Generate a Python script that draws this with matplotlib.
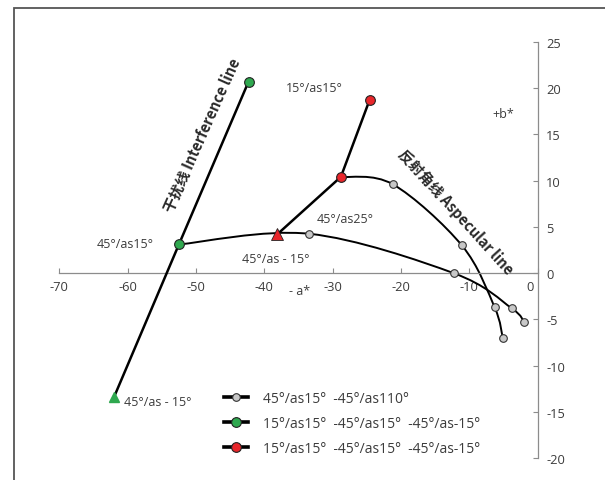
import matplotlib
matplotlib.use("Agg")
import matplotlib.pyplot as plt
from matplotlib.path import Path
from matplotlib.patches import PathPatch, Rectangle
from matplotlib.lines import Line2D
import matplotlib.transforms as mtransforms

plt.rcParams['font.family'] = ['Open Sans', 'Noto Sans CJK SC', 'DejaVu Sans']
plt.rcParams['axes.unicode_minus'] = False

# green series: 45/as-15 -> 45/as15 -> 15/as15
green_x = [-62.0, -52.5, -42.3]
green_y = [-13.4, 3.1, 20.7]
# red series
red_x = [-38.1, -28.8, -24.6]
red_y = [4.2, 10.4, 18.7]
# lower grey curve (starts at green 45/as15)
low_x = [-52.5, -33.4, -12.3, -3.8, -2.0]
low_y = [3.1, 4.25, 0.0, -3.8, -5.3]
# upper grey curve (starts at red 45/as15)
up_x = [-28.8, -21.2, -11.1, -6.3, -5.1]
up_y = [10.4, 9.6, 3.0, -3.7, -7.05]

legend_labels = ["45°/as15°  -45°/as110°",
                 "15°/as15°  -45°/as15°  -45°/as-15°",
                 "15°/as15°  -45°/as15°  -45°/as-15°"]

GREEN = '#2fa84f'
RED = '#e8262b'
GREY = '#c8c8c8'
TXT = '#3c3c3c'
AXC = '#8c8c8c'


def smooth_path(xs, ys):
    # excel style smoothing: catmull-rom turned into cubic beziers
    pts = list(zip(xs, ys))
    verts = [pts[0]]
    codes = [Path.MOVETO]
    n = len(pts)
    for i in range(n - 1):
        p0 = pts[i - 1] if i > 0 else pts[i]
        p1 = pts[i]
        p2 = pts[i + 1]
        p3 = pts[i + 2] if i + 2 < n else pts[i + 1]
        c1 = (p1[0] + (p2[0] - p0[0]) / 6, p1[1] + (p2[1] - p0[1]) / 6)
        c2 = (p2[0] - (p3[0] - p1[0]) / 6, p2[1] - (p3[1] - p1[1]) / 6)
        verts += [c1, c2, p2]
        codes += [Path.CURVE4] * 3
    return Path(verts, codes)


W, H = 605, 481
fig = plt.figure(figsize=(W / 100, H / 100), dpi=100)
ax = fig.add_axes([59.3 / W, 1 - 459.3 / H, (537.7 - 59.3) / W, (459.3 - 42.7) / H])
ax.set_xlim(-70, 0)
ax.set_ylim(-20, 25)

# axes: x axis through zero, y axis on the right
ax.spines['top'].set_visible(False)
ax.spines['left'].set_visible(False)
ax.spines['bottom'].set_position(('data', 0))
for s in ('bottom', 'right'):
    ax.spines[s].set_color(AXC)
    ax.spines[s].set_linewidth(0.9)
ax.yaxis.tick_right()
ax.set_xticks(range(-70, 1, 10))
ax.set_yticks(range(-20, 26, 5))
ax.tick_params(axis='both', direction='in', length=3.5, width=0.8, color=AXC,
               labelsize=9.3, labelcolor=TXT)
ax.tick_params(axis='y', pad=6)
ax.tick_params(axis='x', pad=5)
ax.patch.set_visible(False)

# shift the "0" label off the y axis
lbl0 = ax.get_xticklabels()[-1]
lbl0.set_transform(lbl0.get_transform() + mtransforms.ScaledTranslation(-8 / 100, 0, fig.dpi_scale_trans))

# curves
for xs, ys in ((low_x, low_y), (up_x, up_y)):
    ax.add_patch(PathPatch(smooth_path(xs, ys), facecolor='none', edgecolor='black',
                           lw=1.4, zorder=2, clip_on=False))
ax.plot(low_x[1:], low_y[1:], ls='none', marker='o', ms=5.5, mfc=GREY, mec='#333333',
        mew=0.8, zorder=4, clip_on=False)
ax.plot(up_x[1:], up_y[1:], ls='none', marker='o', ms=5.5, mfc=GREY, mec='#333333',
        mew=0.8, zorder=4, clip_on=False)

ax.plot(green_x, green_y, color='black', lw=1.8, zorder=3)
ax.plot(green_x[1:], green_y[1:], ls='none', marker='o', ms=7, mfc=GREEN, mec='#222222',
        mew=0.8, zorder=5)
ax.plot(green_x[:1], green_y[:1], ls='none', marker='^', ms=7.5, mfc=GREEN, mec=GREEN,
        zorder=5, clip_on=False)

ax.plot(red_x, red_y, color='black', lw=1.8, zorder=3)
ax.plot(red_x[1:], red_y[1:], ls='none', marker='o', ms=7, mfc=RED, mec='#222222',
        mew=0.8, zorder=5)
ax.plot(red_x[:1], red_y[:1], ls='none', marker='^', ms=8, mfc=RED, mec='#222222',
        mew=0.6, zorder=5)

# annotations
fs = 9
ax.text(-32.7, 20.1, "15°/as15°", ha='center', va='center', fontsize=fs, color=TXT)
ax.text(-28.2, 5.9, "45°/as25°", ha='center', va='center', fontsize=fs, color=TXT)
ax.text(-38.3, 1.6, "45°/as - 15°", ha='center', va='center', fontsize=fs, color=TXT)
ax.text(-60.3, 3.2, "45°/as15°", ha='center', va='center', fontsize=fs, color=TXT)
ax.text(-60.6, -13.9, "45°/as - 15°", ha='left', va='center', fontsize=fs, color=TXT)
ax.text(-5.0, 17.2, "+b*", ha='center', va='center', fontsize=fs, color=TXT)
ax.text(-34.9, -1.9, "- a*", ha='center', va='center', fontsize=fs, color=TXT)

cjk = ['Noto Sans CJK SC', 'DejaVu Sans']
ax.text(-49.0, 15.0, "干扰线 Interference line", rotation=66, rotation_mode='anchor',
        ha='center', va='center', fontsize=10.5, fontweight='bold', color='#2a2a2a',
        family=cjk)
ax.text(-11.96, 6.7, "反射角线 Aspecular line", rotation=-47.8, rotation_mode='anchor',
        ha='center', va='center', fontsize=10.5, fontweight='bold', color='#2a2a2a',
        family=cjk)

# legend
handles = [
    Line2D([], [], color='black', lw=2.6, marker='o', ms=5.5, mfc=GREY, mec='#333333', mew=0.8),
    Line2D([], [], color='black', lw=2.6, marker='o', ms=7, mfc=GREEN, mec='#222222', mew=0.8),
    Line2D([], [], color='black', lw=2.6, marker='o', ms=7, mfc=RED, mec='#222222', mew=0.8),
]
leg = fig.legend(handles, legend_labels, loc='upper left',
                 bbox_to_anchor=(224 / W, 1 - 392 / H), frameon=False,
                 fontsize=10, labelcolor=TXT, handlelength=1.7, handletextpad=1.1,
                 labelspacing=0.72, borderpad=0, borderaxespad=0, numpoints=1)

# outer frame
fig.patches.append(Rectangle((14 / W, -0.1), 1.2, 1 - 9 / H + 0.1, transform=fig.transFigure,
                             fill=False, edgecolor='#555555', lw=1.3))

fig.savefig('out.png', dpi=100)
